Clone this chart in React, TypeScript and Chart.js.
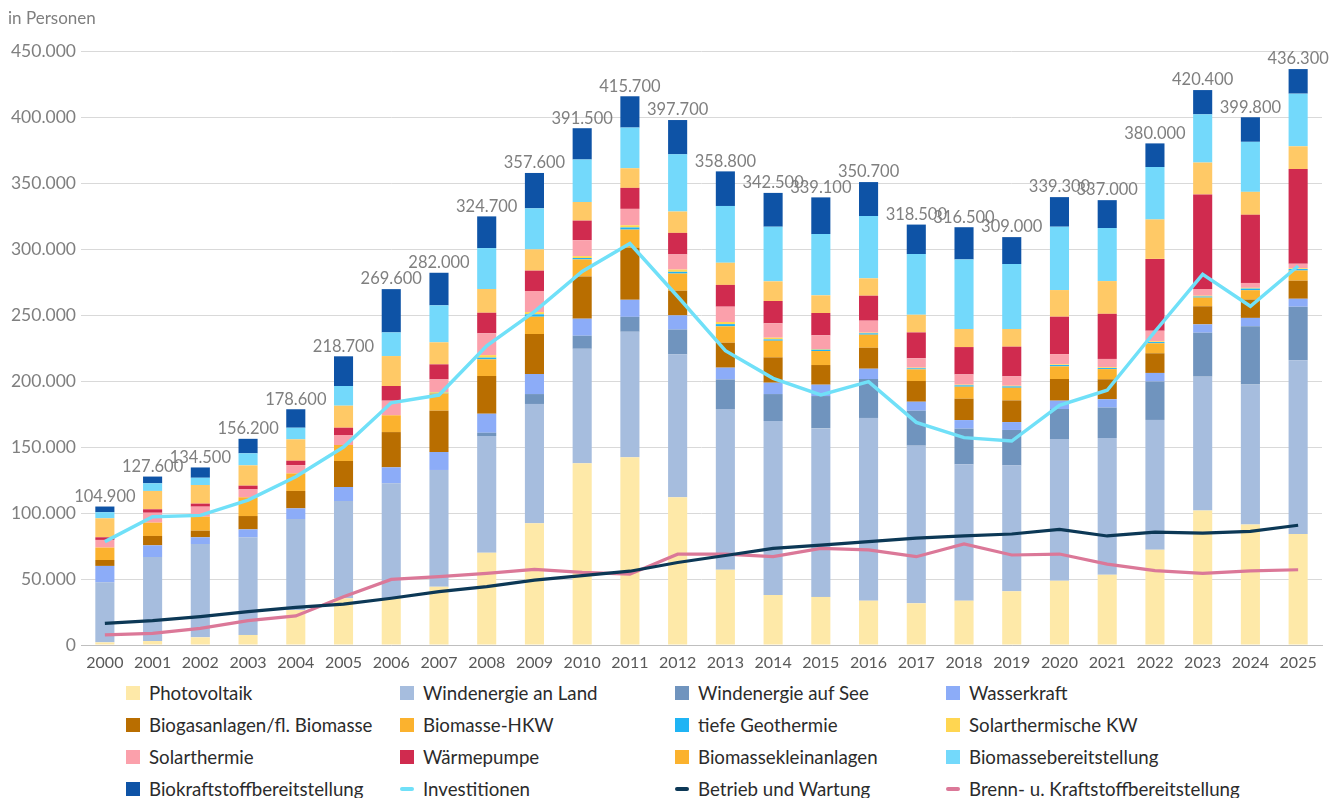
import React, { useEffect, useRef } from "react";
import { Chart, registerables } from "chart.js";
Chart.register(...registerables);

const years = ["2000","2001","2002","2003","2004","2005","2006","2007","2008","2009","2010","2011","2012","2013","2014","2015","2016","2017","2018","2019","2020","2021","2022","2023","2024","2025"];

const photovoltaik = [2000, 3000, 5800, 7600, 26500, 35400, 35400, 44200, 69900, 92200, 137700, 142300, 112000, 57000, 37900, 36400, 33600, 31600, 33600, 40700, 48700, 53300, 72100, 101800, 91200, 84100];
const windLand = [45500, 63600, 70700, 74000, 68900, 73700, 87100, 88400, 88400, 90400, 86700, 95000, 108200, 121700, 131800, 127700, 138400, 119400, 103300, 95400, 107300, 103500, 98400, 101500, 106100, 131700];
const windSee = [0, 0, 0, 0, 0, 0, 0, 0, 2500, 7500, 9900, 11300, 18800, 22500, 20400, 24500, 29500, 26500, 27000, 26800, 22800, 23100, 29100, 33300, 44200, 40500];
const wasserkraft = [12400, 8900, 5100, 6000, 8100, 10600, 12100, 13600, 14400, 15200, 12900, 12900, 10700, 8900, 8600, 8600, 7800, 6800, 6500, 6000, 6300, 6300, 6500, 6300, 6300, 6000];
const biogas = [4500, 7100, 5000, 10100, 13200, 19700, 26700, 31300, 28600, 30300, 32000, 39400, 18700, 18900, 19200, 14900, 15900, 15700, 16200, 16400, 16400, 15100, 14900, 13700, 13900, 13700];
const biomasseHKW = [9400, 10100, 10600, 14200, 13300, 12100, 12700, 13100, 12600, 13100, 12900, 13800, 13000, 12400, 12600, 10600, 9900, 8800, 9100, 9600, 9600, 7700, 7600, 6600, 7100, 7700];
const geothermie = [0, 0, 0, 0, 0, 0, 0, 400, 1300, 1800, 1100, 1600, 1300, 1700, 1000, 1000, 1000, 800, 1000, 1000, 1000, 800, 900, 800, 1200, 1100];
const solarthermKW = [0, 0, 0, 0, 0, 0, 0, 600, 1900, 1700, 1400, 1700, 1700, 1600, 1300, 500, 500, 500, 500, 500, 500, 600, 600, 600, 600, 600];
const solarthermie = [5800, 7500, 7600, 6000, 6300, 7600, 11100, 9600, 16500, 16000, 12100, 12400, 11500, 11600, 10900, 10400, 9100, 7100, 7800, 7100, 7800, 6300, 8000, 5100, 3700, 3400];
const waermepumpe = [2000, 2600, 2300, 2800, 3300, 5500, 11100, 11400, 15600, 15400, 14800, 15900, 16300, 16500, 16900, 16900, 18900, 19600, 20700, 22500, 28300, 34200, 54400, 71600, 51600, 71800];
const kleinanlagen = [14400, 13900, 14100, 15400, 16200, 16700, 22700, 16700, 18000, 16100, 14100, 14900, 16200, 16800, 14900, 13400, 13200, 13400, 13700, 13400, 20200, 24800, 29900, 24200, 17400, 17200];
const bereitstellung = [4600, 5800, 5500, 9100, 8800, 14900, 17900, 28000, 31000, 31100, 32200, 30800, 43300, 43000, 41400, 46400, 47200, 46000, 52700, 49200, 48000, 40200, 39700, 36500, 37900, 39900];
const biokraftstoff = [4300, 5100, 7800, 11000, 14000, 22500, 32800, 24700, 24000, 26800, 23700, 23700, 26000, 26200, 25600, 27800, 25700, 22300, 24400, 20400, 22400, 21100, 17900, 18400, 18600, 18600];

const totals = [104900, 127600, 134500, 156200, 178600, 218700, 269600, 282000, 324700, 357600, 391500, 415700, 397700, 358800, 342500, 339100, 350700, 318500, 316500, 309000, 339300, 337000, 380000, 420400, 399800, 436300];

const investitionen = [78300, 97200, 98200, 109800, 127500, 150000, 183500, 189400, 226700, 252500, 283000, 304200, 264000, 223000, 202000, 189400, 199500, 168700, 157100, 154500, 181500, 193000, 237500, 280800, 256600, 287100];
const betriebWartung = [16400, 18400, 21500, 25300, 28500, 31000, 35400, 40400, 44200, 49200, 52500, 55900, 62500, 67800, 73200, 75700, 78300, 81000, 82600, 84100, 87600, 82600, 85500, 84700, 86100, 90700];
const brennstoff = [7600, 8800, 12600, 18400, 22000, 36600, 49700, 51800, 54300, 57300, 55000, 53700, 68800, 68800, 66900, 73200, 72000, 66900, 76500, 68200, 68900, 61300, 56400, 54200, 56200, 57000];

const barSeries = [
  { label: "Photovoltaik", data: photovoltaik, color: "#FEE9A8", legend: "#FEE9A8" },
  { label: "Windenergie an Land", data: windLand, color: "#A6BDDE", legend: "#A6BDDE" },
  { label: "Windenergie auf See", data: windSee, color: "#7094BE", legend: "#7094BE" },
  { label: "Wasserkraft", data: wasserkraft, color: "#8CACF8", legend: "#8CACF8" },
  { label: "Biogasanlagen/fl. Biomasse", data: biogas, color: "#B96E00", legend: "#B96E00" },
  { label: "Biomasse-HKW", data: biomasseHKW, color: "#FBB22E", legend: "#FBB22E" },
  { label: "tiefe Geothermie", data: geothermie, color: "#1FB4F4", legend: "#1FB4F4" },
  { label: "Solarthermische KW", data: solarthermKW, color: "#FFD651", legend: "#FFD651" },
  { label: "Solarthermie", data: solarthermie, color: "#FBA0AB", legend: "#FBA0AB" },
  { label: "Wärmepumpe", data: waermepumpe, color: "#D02B4F", legend: "#D02B4F" },
  { label: "Biomassekleinanlagen", data: kleinanlagen, color: "#FFC966", legend: "#FBB22E" },
  { label: "Biomassebereitstellung", data: bereitstellung, color: "#73D9FB", legend: "#73D9FB" },
  { label: "Biokraftstoffbereitstellung", data: biokraftstoff, color: "#0E53A6", legend: "#0E53A6" },
];

const lineSeries = [
  { label: "Investitionen", data: investitionen, color: "#70E0F8", width: 3.5 },
  { label: "Betrieb und Wartung", data: betriebWartung, color: "#0C3856", width: 3.2 },
  { label: "Brenn- u. Kraftstoffbereitstellung", data: brennstoff, color: "#DB7898", width: 3.2 },
];

const fmt = (v: number) => {
  const s = Math.round(v).toString();
  return s.replace(/\B(?=(\d{3})+(?!\d))/g, ".");
};

const FONT = "Lato, 'Noto Sans', sans-serif";

const totalsPlugin = {
  id: "totalsLabels",
  afterDatasetsDraw(chart: any) {
    const { ctx, scales } = chart;
    ctx.save();
    ctx.font = `16.5px ${FONT}`;
    ctx.fillStyle = "#7F7F7F";
    ctx.textAlign = "center";
    ctx.textBaseline = "middle";
    totals.forEach((t, i) => {
      const x = scales.x.getPixelForValue(i);
      const y = scales.y.getPixelForValue(t);
      ctx.fillText(fmt(t), x, y - 10);
    });
    ctx.restore();
  },
};

export default function App() {
  const ref = useRef<HTMLCanvasElement | null>(null);

  useEffect(() => {
    if (!ref.current) return;
    const datasets: any[] = [];
    barSeries.forEach((s) => {
      datasets.push({
        type: "bar",
        label: s.label,
        data: s.data,
        backgroundColor: s.color,
        borderWidth: 0,
        stack: "bars",
        order: 2,
        barPercentage: 0.4,
        categoryPercentage: 1,
      });
    });
    lineSeries.forEach((s, i) => {
      datasets.push({
        type: "line",
        label: s.label,
        data: s.data,
        borderColor: s.color,
        backgroundColor: s.color,
        borderWidth: s.width,
        pointRadius: 0,
        tension: 0,
        fill: false,
        stack: "line" + i,
        order: 1,
      });
    });

    const chart = new Chart(ref.current, {
      type: "bar",
      data: { labels: years, datasets },
      options: {
        animation: false,
        responsive: false,
        maintainAspectRatio: false,
        layout: { padding: { top: 51, right: 16, left: 0, bottom: 0 } },
        plugins: {
          legend: { display: false },
          tooltip: { enabled: false },
          title: { display: false },
        },
        scales: {
          x: {
            stacked: true,
            grid: { display: false, drawTicks: false },
            border: { display: true, color: "#BFBFBF", width: 1 },
            ticks: {
              color: "#595959",
              font: { family: FONT, size: 16 },
              padding: 8,
              maxRotation: 0,
              autoSkip: false,
            },
            afterFit: (scale: any) => {
              scale.height = 35;
            },
          },
          y: {
            stacked: true,
            min: 0,
            max: 450000,
            grid: { color: "#D9D9D9", lineWidth: 1, drawTicks: false },
            border: { display: false },
            ticks: {
              stepSize: 50000,
              color: "#7F7F7F",
              font: { family: FONT, size: 17.5 },
              padding: 5,
              callback: (v: any) => fmt(Number(v)),
            },
            afterFit: (scale: any) => {
              scale.width = 81;
            },
          },
        },
      },
      plugins: [totalsPlugin],
    } as any);
    return () => chart.destroy();
  }, []);

  const legendItems: any[] = [
    ...barSeries.map((s) => ({ label: s.label, color: s.legend, kind: "box" })),
    ...lineSeries.map((s) => ({ label: s.label, color: s.color, kind: "line" })),
  ];
  const colX = [126, 400, 675, 946];

  return (
    <div
      style={{
        position: "absolute",
        left: 0,
        top: 0,
        width: 1338,
        height: 798,
        overflow: "hidden",
        background: "#FFFFFF",
        fontFamily: FONT,
      }}
    >
      <div
        style={{
          position: "absolute",
          left: 8,
          top: 8,
          fontSize: 17,
          lineHeight: "20px",
          color: "#7F7F7F",
        }}
      >
        in Personen
      </div>
      <canvas ref={ref} width={1338} height={680} style={{ display: "block" }} />
      {legendItems.map((it, i) => {
        const col = i % 4;
        const row = Math.floor(i / 4);
        const cy = 693 + row * 32;
        return (
          <div
            key={it.label}
            style={{
              position: "absolute",
              left: colX[col],
              top: cy - 12,
              height: 24,
              display: "flex",
              alignItems: "center",
              whiteSpace: "nowrap",
            }}
          >
            {it.kind === "box" ? (
              <span style={{ display: "inline-block", width: 14, height: 14, background: it.color }} />
            ) : (
              <span
                style={{
                  display: "inline-block",
                  width: 14,
                  height: 4,
                  borderRadius: 2,
                  background: it.color,
                }}
              />
            )}
            <span style={{ marginLeft: 9, fontSize: 18.7, color: "#2B2B2B" }}>{it.label}</span>
          </div>
        );
      })}
    </div>
  );
}
